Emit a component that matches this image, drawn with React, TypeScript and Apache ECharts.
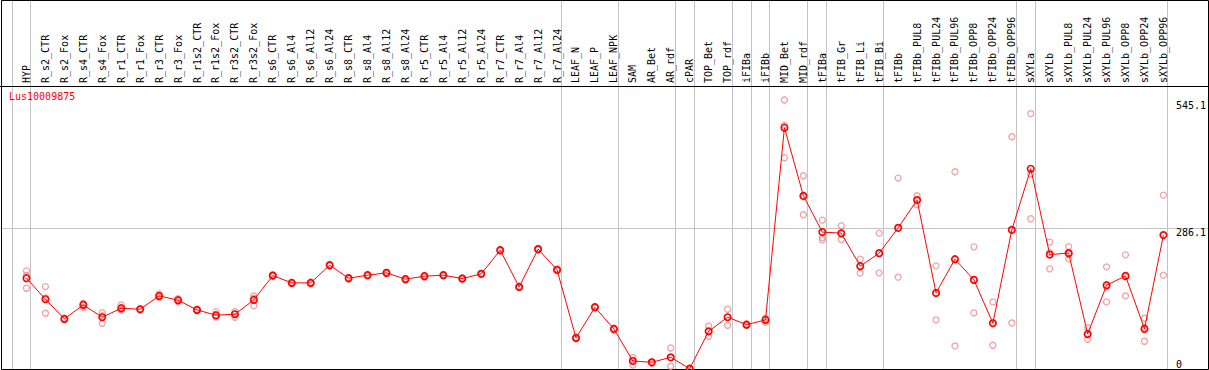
import React, { useEffect, useRef } from "react";
import * as echarts from "echarts";

const geneTitle = "Lus10009875";

const categories = [
  "HYP", "R_s2_CTR", "R_s2_Fox", "R_s4_CTR", "R_s4_Fox", "R_r1_CTR", "R_r1_Fox", "R_r3_CTR", "R_r3_Fox", "R_r1s2_CTR",
  "R_r1s2_Fox", "R_r3s2_CTR", "R_r3s2_Fox", "R_s6_CTR", "R_s6_Al4", "R_s6_Al12", "R_s6_Al24", "R_s8_CTR", "R_s8_Al4", "R_s8_Al12",
  "R_s8_Al24", "R_r5_CTR", "R_r5_Al4", "R_r5_Al12", "R_r5_Al24", "R_r7_CTR", "R_r7_Al4", "R_r7_Al12", "R_r7_Al24", "LEAF_N",
  "LEAF_P", "LEAF_NPK", "SAM", "AR_Bet", "AR_rdf", "cPAR", "TOP_Bet", "TOP_rdf", "iFIBa", "iFIBb",
  "MID_Bet", "MID_rdf", "tFIBa", "tFIB_Gr", "tFIB_Li", "tFIB_Bi", "tFIBb", "tFIBb_PUL8", "tFIBb_PUL24", "tFIBb_PUL96",
  "tFIBb_OPP8", "tFIBb_OPP24", "tFIBb_OPP96", "sXYLa", "sXYLb", "sXYLb_PUL8", "sXYLb_PUL24", "sXYLb_PUL96", "sXYLb_OPP8", "sXYLb_OPP24",
  "sXYLb_OPP96",
];

const meanValues = [
  184.0, 141.4, 101.5, 129.9, 104.9, 123.2, 121.1, 148.1, 139.4, 119.7,
  109.0, 111.0, 140.0, 189.3, 174.5, 174.5, 210.4, 184.0, 190.1, 194.8,
  182.0, 188.1, 190.1, 183.2, 192.8, 240.8, 166.4, 242.9, 200.9, 62.9,
  125.2, 81.2, 16.2, 13.6, 23.7, 0.6, 76.5, 104.9, 89.9, 99.4,
  489.0, 351.0, 277.4, 275.3, 208.4, 234.8, 286.1, 342.3, 154.2, 222.6,
  180.6, 92.7, 282.0, 405.8, 231.9, 234.8, 71.0, 169.8, 188.7, 81.2,
  271.3,
];

const rep1 = [
  198.8, 167.0, 103.0, 133.3, 114.2, 129.9, 122.4, 152.2, 142.6, 121.0,
  115.7, 116.3, 148.1, 191.0, 176.0, 176.2, 212.0, 185.6, 191.5, 196.4,
  183.6, 189.7, 191.6, 184.8, 194.3, 242.4, 168.0, 244.5, 202.5, 64.5,
  126.8, 82.8, 22.9, 15.0, 42.6, 1.8, 87.2, 121.1, 91.5, 102.9,
  545.1, 391.6, 301.7, 290.2, 222.6, 275.3, 386.9, 351.0, 209.0, 399.7,
  247.5, 135.9, 470.7, 517.4, 257.1, 248.1, 83.8, 207.0, 231.3, 102.9,
  352.4,
];

const rep2 = [
  163.7, 113.0, 100.0, 125.2, 92.7, 119.7, 119.8, 144.7, 136.2, 118.0,
  105.5, 104.9, 128.4, 187.6, 173.0, 172.8, 208.8, 182.4, 188.7, 193.2,
  180.4, 186.5, 188.6, 181.6, 191.3, 239.2, 164.8, 241.3, 199.3, 61.3,
  123.6, 79.6, 8.1, 12.2, 5.5, 0.0, 66.3, 88.7, 88.3, 94.8,
  428.1, 312.5, 266.4, 262.4, 194.2, 194.8, 186.1, 332.8, 99.4, 46.7,
  113.6, 48.1, 93.3, 304.4, 202.9, 223.2, 60.3, 136.0, 148.1, 56.2,
  190.1,
];

const rep3 = [
  189.5, 144.2, 101.5, 131.2, 107.8, 120.0, 121.1, 147.4, 139.4, 120.1,
  105.8, 111.8, 143.5, 189.3, 174.5, 174.5, 210.4, 184.0, 190.1, 194.8,
  182.0, 188.1, 190.1, 183.2, 192.8, 240.8, 166.4, 242.9, 200.9, 62.9,
  125.2, 81.2, 17.6, 13.6, 23.0, 0.0, 76.0, 104.9, 89.9, 100.5,
  493.8, 349.0, 261.7, 273.3, 208.4, 234.3, 285.3, 343.1, 154.2, 221.4,
  180.7, 94.1, 282.0, 395.6, 235.7, 233.1, 69.0, 166.4, 186.7, 84.5,
  271.4,
];

const yMin = 0;
const yMark = 286.1;
const yMax = 545.1;

// index of the last category of each group (-1 = before first)
const groupEnds = [-1, 0, 28, 31, 34, 35, 37, 38, 39, 41, 42, 45, 52, 53, 60];

const FONT = "'DejaVu Sans Mono', monospace";
const W = 1209;
const H = 370;

export default function App() {
  const ref = useRef<HTMLDivElement>(null);

  useEffect(() => {
    document.body.style.margin = "0";
    const chart = echarts.init(ref.current!, null, { renderer: "svg" });

    const repData: [number, number][] = [];
    categories.forEach((_, i) => {
      [rep1, rep2, rep3].forEach((r) => {
        if (r[i] != null) repData.push([i, r[i]]);
      });
    });

    const fmt = (v: number) => String(Math.round(v * 10) / 10);

    chart.setOption({
      animation: false,
      title: {
        text: geneTitle,
        left: 9,
        top: 91,
        padding: 0,
        textStyle: { color: "#ff0000", fontSize: 10, fontWeight: "normal", fontFamily: FONT },
      },
      grid: { left: 17, right: 33, top: 100, bottom: 1 },
      xAxis: {
        type: "category",
        data: categories,
        position: "top",
        offset: 14,
        boundaryGap: true,
        axisLine: { show: false },
        axisTick: { show: false },
        splitLine: { show: false },
        axisLabel: {
          interval: 0,
          rotate: 90,
          margin: 3,
          color: "#000",
          fontSize: 10,
          fontFamily: FONT,
        },
      },
      yAxis: [
        {
          type: "value",
          position: "right",
          min: yMin,
          max: yMax,
          interval: yMark,
          axisLine: { show: false },
          axisTick: { show: false },
          splitLine: { show: false },
          axisLabel: {
            margin: 3,
            color: "#000",
            fontSize: 10,
            fontFamily: FONT,
            verticalAlign: "top",
            showMaxLabel: true,
            formatter: (v: number) => (v === yMin ? "" : fmt(v)),
          },
        },
        {
          type: "value",
          position: "right",
          min: yMin,
          max: yMax,
          interval: yMark,
          axisLine: { show: false },
          axisTick: { show: false },
          splitLine: { show: false },
          axisLabel: {
            margin: 3,
            color: "#000",
            fontSize: 10,
            fontFamily: FONT,
            verticalAlign: "bottom",
            showMinLabel: true,
            formatter: (v: number) => (v === yMin ? fmt(v) : ""),
          },
        },
      ],
      series: [
        {
          type: "scatter",
          data: repData,
          yAxisIndex: 0,
          symbol: "circle",
          symbolSize: 6,
          z: 2,
          itemStyle: { color: "rgba(0,0,0,0)", borderColor: "#ee8a8a", borderWidth: 1.3 },
          silent: true,
        },
        {
          type: "line",
          data: meanValues,
          yAxisIndex: 0,
          symbol: "circle",
          symbolSize: 6.5,
          showAllSymbol: true,
          z: 3,
          lineStyle: { color: "#ff0000", width: 1 },
          itemStyle: { color: "rgba(0,0,0,0)", borderColor: "#ff0000", borderWidth: 1.6 },
          silent: true,
        },
      ],
    });

    const px = (i: number) => chart.convertToPixel({ xAxisIndex: 0 }, i) as number;
    const py = (v: number) => chart.convertToPixel({ yAxisIndex: 0 }, v) as number;
    const x0 = px(0);
    const step = px(1) - x0;
    const bottom = Math.round(py(yMin));
    const markY = Math.round(py(yMark)) + 0.5;
    const headerY = 86.5;

    const graphics: any[] = [];
    groupEnds.forEach((g) => {
      const x = Math.round(x0 + step * g + 4) + 0.5;
      graphics.push({
        type: "line",
        silent: true,
        z: 0,
        shape: { x1: x, y1: 0, x2: x, y2: bottom },
        style: { stroke: "#c4c4c4", lineWidth: 1 },
      });
    });
    graphics.push({
      type: "line",
      silent: true,
      z: 0,
      shape: { x1: 1, y1: markY, x2: W - 1, y2: markY },
      style: { stroke: "#c4c4c4", lineWidth: 1 },
    });
    graphics.push({
      type: "line",
      silent: true,
      z: 1,
      shape: { x1: 0, y1: headerY, x2: W, y2: headerY },
      style: { stroke: "#000", lineWidth: 1 },
    });
    graphics.push({
      type: "rect",
      silent: true,
      z: 1,
      shape: { x: 1.5, y: 0.5, width: W - 2, height: bottom },
      style: { fill: "none", stroke: "#000", lineWidth: 1 },
    });

    chart.setOption({ graphic: graphics });

    return () => {
      chart.dispose();
    };
  }, []);

  return <div ref={ref} style={{ width: W, height: H }} />;
}
